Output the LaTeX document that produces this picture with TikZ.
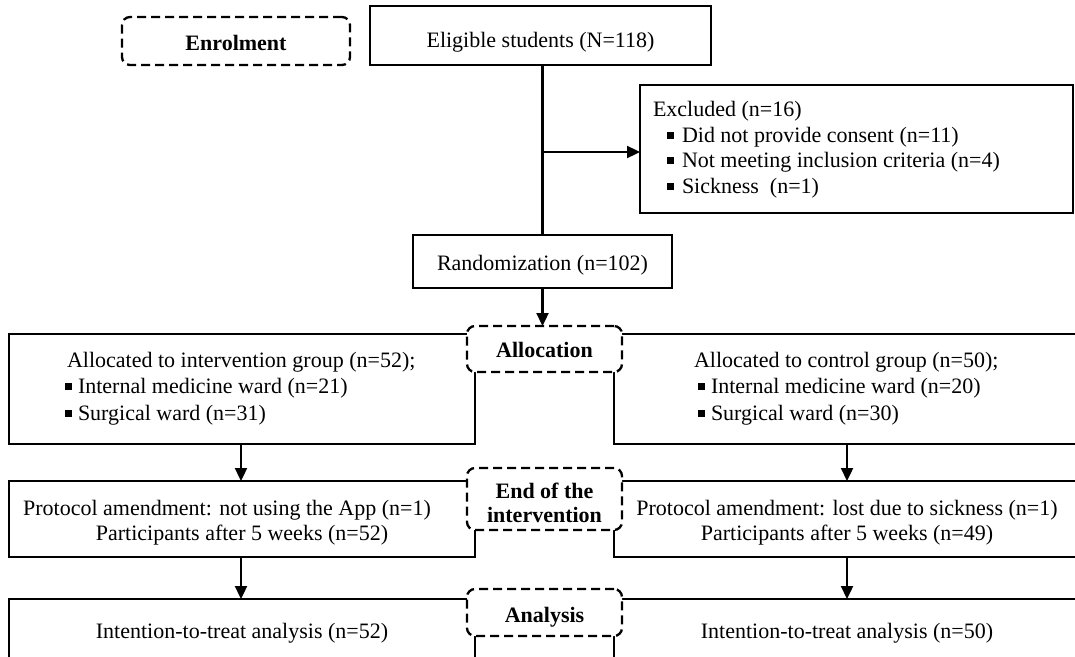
\documentclass[tikz,border=0pt]{standalone}
\usepackage{fontspec}
\setmainfont{Liberation Serif}
\usetikzlibrary{arrows.meta}
\newcommand{\bul}{\rule[3.5pt]{7pt}{7pt}}
\begin{document}
\begin{tikzpicture}[x=1pt,y=-1pt,
  solidbox/.style={draw, line width=2.3pt, inner sep=0pt, outer sep=0pt},
  dashbox/.style={draw, fill=white, line width=2.3pt, dash pattern=on 9pt off 5pt, rounded corners=8pt, inner sep=0pt, outer sep=0pt},
  txt/.style={inner sep=0pt, outer sep=0pt, font=\fontsize{22}{26}\selectfont},
  btxt/.style={inner sep=0pt, outer sep=0pt, font=\bfseries\fontsize{22}{26}\selectfont},
  conn/.style={line width=2.3pt},
  arr/.style={line width=2.3pt, -{Triangle[length=13pt,width=12pt]}}]
\useasboundingbox (0,0) rectangle (1075,656);
\clip (0,0) rectangle (1075,656);
\fill[white] (0,0) rectangle (1075,656);
% solid boxes
\node[solidbox, minimum width=341pt, minimum height=59pt] (elig) at (540.5,35.5) {};
\node[solidbox, minimum width=433pt, minimum height=128pt] (excl) at (856.5,149) {};
\node[solidbox, minimum width=259pt, minimum height=53pt] (rand) at (542.5,261.5) {};
\node[solidbox, minimum width=466pt, minimum height=110pt] (allocL) at (242,389) {};
\node[solidbox, minimum width=486pt, minimum height=110pt] (allocR) at (857,389) {};
\node[solidbox, minimum width=466pt, minimum height=76pt] (protL) at (242,519) {};
\node[solidbox, minimum width=486pt, minimum height=76pt] (protR) at (857,519) {};
\node[solidbox, minimum width=466pt, minimum height=100pt] (ittL) at (242,649) {};
\node[solidbox, minimum width=486pt, minimum height=100pt] (ittR) at (857,649) {};
% connectors
\coordinate (j) at (542,152);
\coordinate (rc) at (847,0);
\coordinate (lc) at (241,0);
\draw[conn] (rand.north |- elig.south) -- (rand.north);
\draw[arr] (j) -- (j -| excl.west);
% dashed label boxes
\node[dashbox, minimum width=228pt, minimum height=48pt] (enrol) at (236,41) {};
\node[dashbox, minimum width=155pt, minimum height=46pt] (alloc) at (544.5,349) {};
\node[dashbox, minimum width=155pt, minimum height=62pt] (endint) at (544.5,499) {};
\node[dashbox, minimum width=155pt, minimum height=47pt] (anal) at (544.5,612.5) {};
\draw[arr] (rand.south) -- (rand.south |- alloc.north);
\draw[arr] (allocL.south -| lc) -- (protL.north -| lc);
\draw[arr] (allocR.south -| rc) -- (protR.north -| rc);
\draw[arr] (protL.south -| lc) -- (ittL.north -| lc);
\draw[arr] (protR.south -| rc) -- (ittR.north -| rc);
% texts
\node[btxt, anchor=base] (tenrol) at (236,50) {Enrolment};
\node[txt, anchor=base] (telig) at (540.5,47) {Eligible students (N=118)};
\node[txt, anchor=base west] (tex0) at (653,116) {Excluded (n=16)};
\node[txt, anchor=base west] (tex1) at (667,142) {\bul\hspace{8pt}Did not provide consent (n=11)};
\node[txt, anchor=base west] (tex2) at (667,167) {\bul\hspace{8pt}Not meeting inclusion criteria (n=4)};
\node[txt, anchor=base west] (tex3) at (667,193) {\bul\hspace{8pt}Sickness\ \ (n=1)};
\node[txt, anchor=base] (trand) at (542.5,270) {Randomization (n=102)};
\node[btxt, anchor=base] (talloc) at (544.5,357) {Allocation};
\node[txt, anchor=base west] (tal0) at (67,367) {Allocated to intervention group (n=52);};
\node[txt, anchor=base west] (tal1) at (65,393) {\bul\hspace{6pt}Internal medicine ward (n=21)};
\node[txt, anchor=base west] (tal2) at (65,420) {\bul\hspace{6pt}Surgical ward (n=31)};
\node[txt, anchor=base west] (tar0) at (694,367) {Allocated to control group (n=50);};
\node[txt, anchor=base west] (tar1) at (698,393) {\bul\hspace{6pt}Internal medicine ward (n=20)};
\node[txt, anchor=base west] (tar2) at (698,420) {\bul\hspace{6pt}Surgical ward (n=30)};
\node[btxt, anchor=base] (tend0) at (544.5,498) {End of the};
\node[btxt, anchor=base] (tend1) at (544.5,522) {intervention};
\node[txt, anchor=base] (tpl0) at (227,515) {Protocol amendment: not using the App (n=1)};
\node[txt, anchor=base] (tpl1) at (242,540) {Participants after 5 weeks (n=52)};
\node[txt, anchor=base] (tpr0) at (847,515) {Protocol amendment: lost due to sickness (n=1)};
\node[txt, anchor=base] (tpr1) at (847,540) {Participants after 5 weeks (n=49)};
\node[btxt, anchor=base] (tanal) at (544.5,622) {Analysis};
\node[txt, anchor=base] (titl) at (242,638) {Intention-to-treat analysis (n=52)};
\node[txt, anchor=base] (titr) at (847,638) {Intention-to-treat analysis (n=50)};
\end{tikzpicture}
\end{document}
